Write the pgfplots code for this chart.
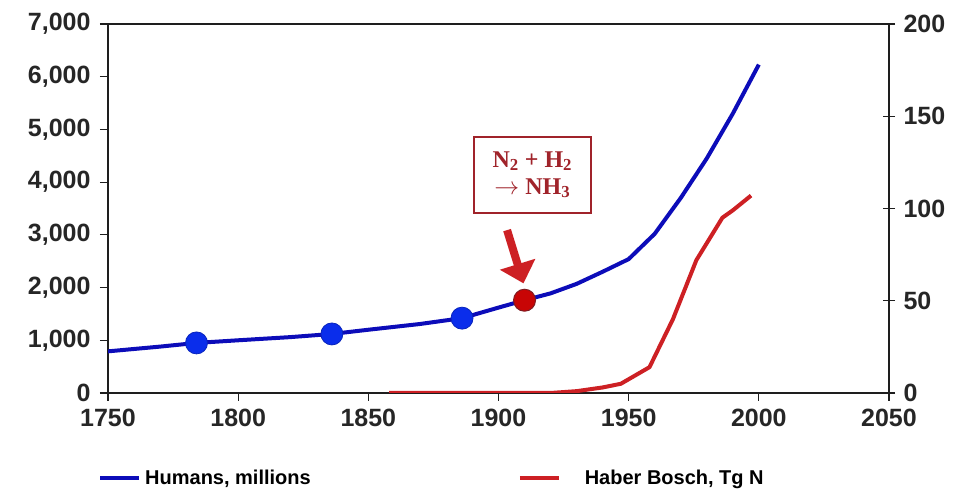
\documentclass[border=0pt]{standalone}
\usepackage{fontspec}
\setmainfont{Liberation Sans}
\newfontfamily\serifb{Liberation Serif}
\usepackage{pgfplots}
\pgfplotsset{compat=1.18}
\usetikzlibrary{arrows.meta}
\definecolor{hblue}{RGB}{12,12,185}
\definecolor{mblue}{RGB}{10,45,235}
\definecolor{hred}{RGB}{205,32,36}
\definecolor{dred}{RGB}{160,35,42}
\definecolor{mred}{RGB}{200,5,5}
\definecolor{axgray}{RGB}{30,30,30}
\begin{document}
\begin{tikzpicture}[x=1pt,y=1pt]
\useasboundingbox (0,0) rectangle (959,492);
\begin{axis}[
  at={(108pt,99pt)}, anchor=south west,
  scale only axis, width=781pt, height=369pt,
  xmin=1750, xmax=2050, ymin=0, ymax=7000,
  xtick={1750,1800,...,2050},
  ytick={0,1000,...,7000},
  xtick pos=bottom, ytick pos=left,
  tick align=outside, major tick length=8pt,
  axis line style={axgray, line width=1.6pt},
  every tick/.style={axgray, line width=1.2pt},
  tick label style={font=\fontsize{25}{30}\selectfont\bfseries, text=black!85},
  /pgf/number format/assume math mode=true,
  yticklabel style={/pgf/number format/1000 sep={,}, xshift=-6pt},
  xticklabel style={/pgf/number format/1000 sep={}, yshift=-5pt},
  legend columns=2,
  legend style={draw=none, fill=none, at={(-10/781,-85/369)}, anchor=west,
    inner xsep=0pt, inner ysep=0pt,
    font=\fontsize{20}{24}\selectfont\bfseries,
    /tikz/every even column/.append style={column sep=205pt}},
  legend cell align=left,
  legend image code/.code={\draw[#1] (0pt,0pt) -- (39pt,0pt);},
]
\addplot[hblue, line width=4pt, line join=round] coordinates {
 (1750,790) (1770,880) (1784,950) (1800,1000) (1820,1060) (1836,1120) (1850,1200)
 (1870,1310) (1886,1420) (1900,1620) (1910,1760) (1920,1890) (1930,2070)
 (1940,2300) (1950,2540) (1960,3020) (1970,3700) (1980,4450) (1990,5300) (2000,6230)};
\addlegendentry{\hspace{2pt}Humans, millions}
\addlegendimage{hred, line width=4pt}
\addlegendentry{\hspace{22pt}Haber Bosch, Tg N}
\addplot[only marks, mark=*, mark size=11pt, mark options={fill=mblue, draw=mblue!80!black, line width=0.8pt}, forget plot] coordinates {
 (1784,950) (1836,1120) (1886,1420)};
\addplot[only marks, mark=*, mark size=11pt, mark options={fill=mred, draw=dred!80!black, line width=1pt}, forget plot] coordinates {
 (1910,1760)};
\draw[hred, line width=8pt, -{Triangle[length=20pt,width=36pt]}] (axis cs:1903.3,3090) -- (axis cs:1909.6,2080);
\node[draw=dred, line width=2pt, fill=white, text=dred, font=\serifb\bfseries\fontsize{24}{27}\selectfont, align=center,
  minimum width=117pt, minimum height=76pt, inner sep=2pt] at (axis cs:1913,4140)
  {N\textsubscript{2} + H\textsubscript{2}\\$\rightarrow$ NH\textsubscript{3}};
\end{axis}
\begin{axis}[
  at={(108pt,99pt)}, anchor=south west,
  scale only axis, width=781pt, height=369pt,
  xmin=1750, xmax=2050, ymin=0, ymax=200,
  axis x line=none, axis y line*=right,
  ytick={0,50,...,200},
  tick align=center, major tick length=12pt,
  axis line style={axgray, line width=1.6pt},
  every tick/.style={axgray, line width=1.2pt},
  tick label style={font=\fontsize{25}{30}\selectfont\bfseries, text=black!85},
  /pgf/number format/assume math mode=true,
  yticklabel style={xshift=5pt},
]
\addplot[hred, line width=4pt, line join=round] coordinates {
 (1858,0) (1880,0) (1900,0) (1920,0) (1930,1) (1940,3) (1947,5) (1958,14)
 (1967,40) (1976,72) (1986,95) (1990,99) (1997,107)};
\end{axis}
\end{tikzpicture}
\end{document}
